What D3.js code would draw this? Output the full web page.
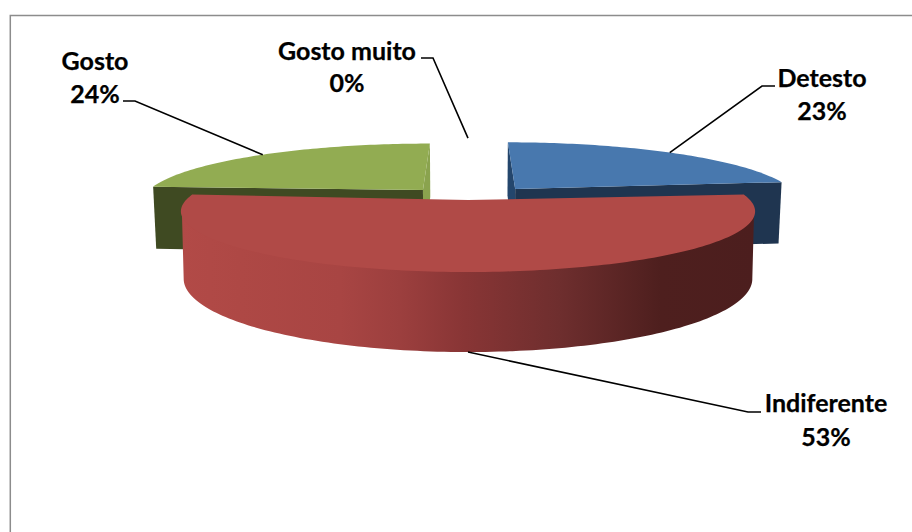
<!DOCTYPE html>
<html><head><meta charset="utf-8">
<script src="https://cdn.jsdelivr.net/npm/d3@7"></script>
<style>html,body{margin:0;padding:0;background:#fff}svg{display:block}</style></head>
<body><svg id="c" width="912" height="532"></svg>
<script>
const categories = ["Detesto","Indiferente","Gosto","Gosto muito"];
const values = [23,53,24,0];
const percentLabels = ["23%","53%","24%","0%"];
const explosions = [74,0,68,87];
const radii = [286,282,283,286];
const rotations = [0,0.031,0,0];
const topColors = ["#4878ae","#b04a47","#92ac52","#ffffff"];
const frontColors = ["#1f3550","#4c1e1e","#3f4a22","#ffffff"];
const sideColors = ["#24466c","#4c1e1e","#8aa34e","#ffffff"];
const wallStops = [[180,"#b24a47"],[240,"#ae4845"],[340,"#a84543"],[400,"#9c3f3e"],[465,"#883535"],[560,"#6e2e2e"],[660,"#4e1f1e"],[756,"#4c1e1e"]];
// label layout: centre x, line centres, leader start, elbow
const labelLayout = [
 {x:822,y:78,y2:111,start:[775,86],elbow:[762,86]},
 {x:826,y:403,y2:437,start:[761,412],elbow:[748,412]},
 {x:95,y:61,y2:94,start:[123,101],elbow:[135,101]},
 {x:347,y:51,y2:83,start:[421,58],elbow:[433,58]}
];
const T=65,D=1500,CX=468,HORIZON=-111,PLANE=311,TAPER=0.00015;
const svg=d3.select("#c");
const pie=d3.pie().sort(null)(values);
function proj(theta,r,z,e,mid){
  const X=r*Math.sin(theta)+e*Math.sin(mid), Y=r*Math.cos(theta)+e*Math.cos(mid);
  const s=D/(D+Y);
  return [CX+X*s*(1-z*TAPER), HORIZON+(PLANE+z)*s];
}
function arcPts(a0,a1,r,z,e,mid){
  const n=Math.max(2,Math.ceil(Math.abs(a1-a0)/0.02));
  return d3.range(n+1).map(i=>proj(a0+(a1-a0)*i/n,r,z,e,mid));
}
const line=d3.line();
const defs=svg.append("defs");
const grad=defs.append("linearGradient").attr("id","wall").attr("gradientUnits","userSpaceOnUse")
 .attr("x1",wallStops[0][0]).attr("x2",wallStops[wallStops.length-1][0]).attr("y1",0).attr("y2",0);
const span=wallStops[wallStops.length-1][0]-wallStops[0][0];
wallStops.forEach(s=>grad.append("stop").attr("offset",(s[0]-wallStops[0][0])/span).attr("stop-color",s[1]));
// frame
svg.append("rect").attr("x",10.3).attr("y",15.5).attr("width",1000).attr("height",1000).attr("fill","#fff").attr("stroke","#8c8c8c").attr("stroke-width",1.5);
// back slices first, then the front slice
[2,0,1].forEach(i=>{
  const d=pie[i],mid=(d.startAngle+d.endAngle)/2,e=explosions[i],R=radii[i];
  const a0=d.startAngle+rotations[i],a1=d.endAngle+rotations[i];
  const g=svg.append("g");
  const apexT=proj(0,0,0,e,mid),apexB=proj(0,0,T,e,mid);
  if(i!==1){
    const inner=i===0?a0:a1, outer=i===0?a1:a0;
    const iT=proj(inner,R,0,e,mid),iB=proj(inner,R,T,e,mid);
    g.append("path").attr("d",line([iT,apexT,apexB,iB])+"Z").attr("fill",sideColors[i]);
    const oT=proj(outer,R,0,e,mid),oB=proj(outer,R,T,e,mid);
    g.append("path").attr("d",line([apexT,oT,oB,apexB])+"Z").attr("fill",frontColors[i]);
  } else {
    // the wall runs only between the silhouette extremes of the rim;
    // it starts slightly above the rim so no seam shows under the top face
    const top=arcPts(a0,a1,R,0,e,mid), bot=arcPts(a0,a1,R,T,e,mid), over=arcPts(a0,a1,R-1,-3,e,mid);
    const iR=d3.greatestIndex(top,p=>p[0]), iL=d3.leastIndex(top,p=>p[0]);
    const lo=Math.min(iL,iR),hi=Math.max(iL,iR);
    g.append("path").attr("d",line(over.slice(lo,hi+1).concat(bot.slice(lo,hi+1).reverse()))+"Z").attr("fill","url(#wall)");
  }
  g.append("path").attr("d",line([apexT].concat(arcPts(a0,a1,R,0,e,mid)))+"Z").attr("fill",topColors[i]);
});
// leaders and labels
pie.forEach((d,i)=>{
  const mid=(d.startAngle+d.endAngle)/2,L=labelLayout[i];
  const th=i===3?0:(i===1?Math.PI:mid);
  const anchor=proj(th,radii[i],i===1?T:0,explosions[i],i===3?0:mid);
  svg.append("path").attr("d",line([L.start,L.elbow,anchor])).attr("fill","none").attr("stroke","#000").attr("stroke-width",1.6);
  const t=svg.append("g").attr("font-family","Lato").attr("font-weight",700).attr("font-size",25).attr("text-anchor","middle").attr("fill","#000").attr("stroke","#000").attr("stroke-width",0.25);
  t.append("text").attr("x",L.x).attr("y",L.y).attr("dy","0.35em").text(categories[i]);
  t.append("text").attr("x",L.x).attr("y",L.y2).attr("dy","0.35em").text(percentLabels[i]);
});
</script></body></html>
